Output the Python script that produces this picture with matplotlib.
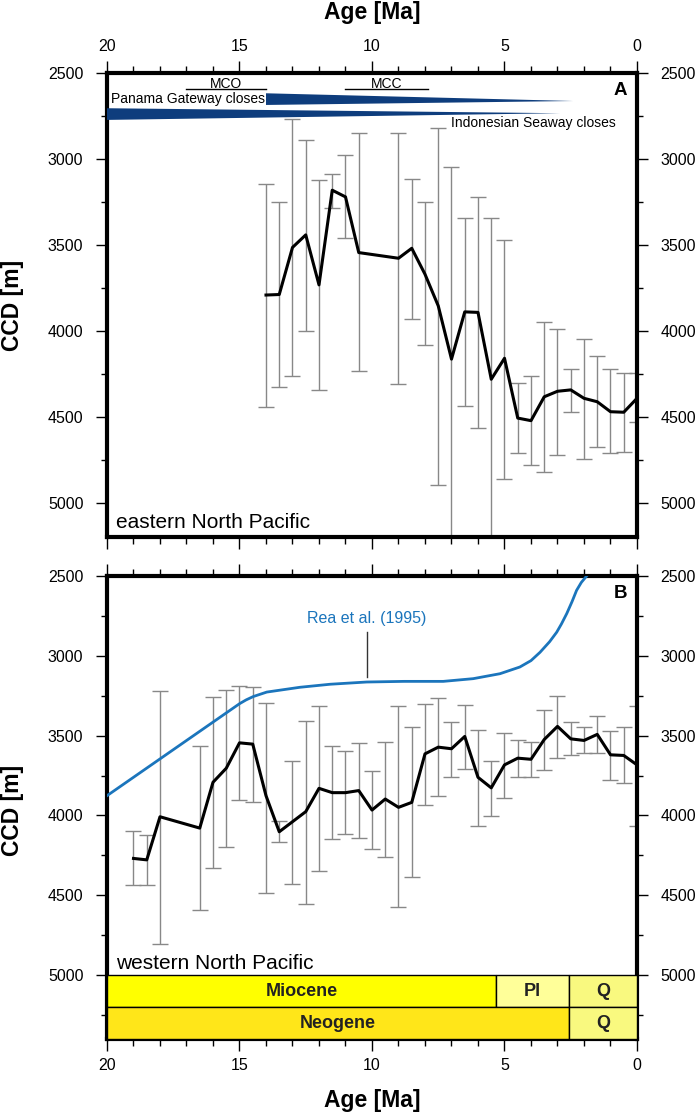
import numpy as np
import matplotlib.pyplot as plt
import matplotlib.ticker as mticker
from matplotlib.patches import Rectangle, Polygon

plt.rcParams['font.family'] = ['Liberation Sans', 'DejaVu Sans']

# ---- panel A: eastern North Pacific ----
age_a = [14.0, 13.5, 13.0, 12.5, 12.0, 11.5, 11.0, 10.5, 9.0, 8.5, 8.0, 7.5, 7.0,
         6.5, 6.0, 5.5, 5.0, 4.5, 4.0, 3.5, 3.0, 2.5, 2.0, 1.5, 1.0, 0.5, 0.0]
ccd_a = [3792, 3789, 3515, 3442, 3733, 3182, 3221, 3545, 3578, 3520, 3671, 3855, 4165,
         3890, 3893, 4282, 4160, 4508, 4523, 4384, 4352, 4344, 4393, 4413, 4471, 4474, 4393]
top_a = [3143, 3248, 2769, 2888, 3122, 3089, 2979, 2849, 2849, 3118, 3253, 2820, 3047,
         3345, 3224, 3345, 3473, 4304, 4262, 3951, 3992, 4225, 4048, 4145, 4225, 4244, 4244]
bot_a = [4445, 4329, 4262, 4000, 4344, 3283, 3461, 4236, 4310, 3932, 4083, 4895, 5283,
         4438, 4566, 5219, 4860, 4713, 4779, 4824, 4721, 4474, 4746, 4674, 4713, 4708, 4532]

# ---- panel B: western North Pacific ----
age_b = [19.0, 18.5, 18.0, 16.5, 16.0, 15.5, 15.0, 14.5, 14.0, 13.5, 13.0, 12.5, 12.0,
         11.5, 11.0, 10.5, 10.0, 9.5, 9.0, 8.5, 8.0, 7.5, 7.0, 6.5, 6.0, 5.5, 5.0,
         4.5, 4.0, 3.5, 3.0, 2.5, 2.0, 1.5, 1.0, 0.5, 0.0]
ccd_b = [4269, 4278, 4008, 4079, 3792, 3704, 3545, 3553, 3876, 4102, 4039, 3976, 3830,
         3857, 3857, 3844, 3966, 3897, 3949, 3918, 3614, 3572, 3582, 3505, 3761, 3827, 3683,
         3641, 3648, 3524, 3442, 3520, 3530, 3492, 3620, 3624, 3683]
top_b = [4100, 4121, 3220, 3562, 3258, 3212, 3189, 3195, 3296, 4037, 3660, 3407, 3317,
         3566, 3595, 3547, 3723, 3538, 3317, 3446, 3300, 3264, 3415, 3310, 3463, 3658, 3482,
         3526, 3541, 3342, 3252, 3415, 3446, 3378, 3469, 3446, 3317]
bot_b = [4437, 4437, 4807, 4594, 4330, 4198, 3903, 3918, 4485, 4163, 4431, 4556, 4345,
         4149, 4116, 4141, 4211, 4259, 4575, 4384, 3932, 3876, 3756, 3708, 4064, 4001, 3890,
         3756, 3756, 3714, 3639, 3620, 3610, 3610, 3777, 3798, 4064]

# Rea et al. (1995) CCD curve
age_rea = [20.0, 15.0, 14.75, 14.48, 13.97, 12.72, 11.58, 10.2, 8.8, 7.31, 6.18, 5.17,
           4.42, 4.0, 3.66, 3.3, 3.03, 2.85, 2.65, 2.45, 2.28, 2.1, 1.9]
ccd_rea = [3876, 3300, 3276, 3255, 3227, 3197, 3178, 3164, 3160, 3160, 3143, 3112,
           3070, 3030, 2978, 2912, 2852, 2800, 2735, 2660, 2590, 2540, 2500]

# gateway wedges (age, depth)
panama_wedge = [(14.0, 2618), (14.0, 2686), (2.4, 2663)]
indo_wedge = [(20.0, 2705), (20.0, 2773), (2.9, 2734)]

# timescale
epochs = ['Miocene', 'Pl', 'Q']
epoch_old = [20.0, 5.33, 2.58]
epoch_young = [5.33, 2.58, 0.0]
epoch_col = ['#FFFF00', '#FFFF99', '#F9F97F']
periods = ['Neogene', 'Q']
period_old = [20.0, 2.58]
period_young = [2.58, 0.0]
period_col = ['#FFE619', '#F9F97F']

W, H = 699, 1116
fig = plt.figure(figsize=(W / 100, H / 100), dpi=100)
left = 107 / W
width = 530 / W
axA = fig.add_axes([left, 1 - 537 / H, width, 464 / H])
axB = fig.add_axes([left, 1 - 1039 / H, width, 463 / H])

err_col = '#888888'
blue = '#1b75bc'


def style(ax, ymax, labeltop):
    ax.set_xlim(20, 0)
    ax.set_ylim(ymax, 2500)
    ax.xaxis.set_major_locator(mticker.MultipleLocator(5))
    ax.xaxis.set_minor_locator(mticker.MultipleLocator(1))
    ax.yaxis.set_major_locator(mticker.MultipleLocator(500))
    ax.yaxis.set_minor_locator(mticker.MultipleLocator(250))
    for s in ax.spines.values():
        s.set_linewidth(3)
    ax.tick_params(axis='x', which='both', direction='out', top=True, bottom=True,
                   labeltop=labeltop, labelbottom=not labeltop, labelsize=11.5, pad=5)
    ax.tick_params(axis='x', which='major', length=8.5, width=1)
    ax.tick_params(axis='x', which='minor', length=5, width=1)
    ax.tick_params(axis='y', which='both', direction='out', left=True, right=True,
                   labelleft=True, labelright=True, labelsize=11.5, pad=9)
    ax.tick_params(axis='y', which='major', length=8, width=1)
    ax.tick_params(axis='y', which='minor', length=4.5, width=1)


# panel A
style(axA, 5200, True)
axA.errorbar(age_a, ccd_a,
             yerr=[np.array(ccd_a) - np.array(top_a), np.array(bot_a) - np.array(ccd_a)],
             fmt='none', ecolor=err_col, elinewidth=1, capsize=5.5, capthick=1, zorder=2)
axA.plot(age_a, ccd_a, color='black', lw=2.2, zorder=3)
axA.add_patch(Polygon(panama_wedge, closed=True, color='#0e3d7d', lw=0, zorder=4))
axA.add_patch(Polygon(indo_wedge, closed=True, color='#0e3d7d', lw=0, zorder=4))
axA.plot([17, 14], [2595, 2595], color='black', lw=1)
axA.plot([11, 7.9], [2595, 2595], color='black', lw=1)
axA.text(15.5, 2562, 'MCO', ha='center', va='center', fontsize=10)
axA.text(9.45, 2562, 'MCC', ha='center', va='center', fontsize=10)
axA.text(14.05, 2651, 'Panama Gateway closes', ha='right', va='center', fontsize=10)
axA.text(0.8, 2789, 'Indonesian Seaway closes', ha='right', va='center', fontsize=10)
axA.text(0.38, 2600, 'A', ha='right', va='center', fontsize=13.5, fontweight='bold')
axA.text(19.65, 5150, 'eastern North Pacific', ha='left', va='baseline', fontsize=15)

# panel B
style(axB, 5400, False)
axB.errorbar(age_b, ccd_b,
             yerr=[np.array(ccd_b) - np.array(top_b), np.array(bot_b) - np.array(ccd_b)],
             fmt='none', ecolor=err_col, elinewidth=1, capsize=5.5, capthick=1, zorder=2)
axB.plot(age_b, ccd_b, color='black', lw=2.2, zorder=3)
axB.plot(age_rea, ccd_rea, color=blue, lw=2, zorder=3)
axB.plot([10.2, 10.2], [2850, 3132], color='#333333', lw=1)
axB.text(10.2, 2764, 'Rea et al. (1995)', ha='center', va='center', fontsize=11.5, color=blue)
axB.text(0.38, 2607, 'B', ha='right', va='center', fontsize=13.5, fontweight='bold')
axB.text(19.65, 4962, 'western North Pacific', ha='left', va='baseline', fontsize=15)

for name, o, y, c in zip(epochs, epoch_old, epoch_young, epoch_col):
    axB.add_patch(Rectangle((y, 5000), o - y, 200, facecolor=c, edgecolor='black', lw=1, zorder=5))
    axB.text((o + y) / 2, 5100, name, ha='center', va='center', fontsize=13,
             fontweight='bold', color='#222222', zorder=6)
for name, o, y, c in zip(periods, period_old, period_young, period_col):
    axB.add_patch(Rectangle((y, 5200), o - y, 200, facecolor=c, edgecolor='black', lw=1, zorder=5))
    axB.text((o + y) / 2, 5300, name, ha='center', va='center', fontsize=13,
             fontweight='bold', color='#222222', zorder=6)

# axis titles
cx = (107 + 637) / 2 / W
fig.text(cx, 1 - 13 / H, 'Age [Ma]', ha='center', va='center', fontsize=16.5, fontweight='bold')
fig.text(cx, 1 - 1100 / H, 'Age [Ma]', ha='center', va='center', fontsize=16.5, fontweight='bold')
fig.text(13 / W, 1 - 305 / H, 'CCD [m]', ha='center', va='center', rotation=90,
         fontsize=16.5, fontweight='bold')
fig.text(13 / W, 1 - 810 / H, 'CCD [m]', ha='center', va='center', rotation=90,
         fontsize=16.5, fontweight='bold')

fig.savefig('out.png', dpi=100)
